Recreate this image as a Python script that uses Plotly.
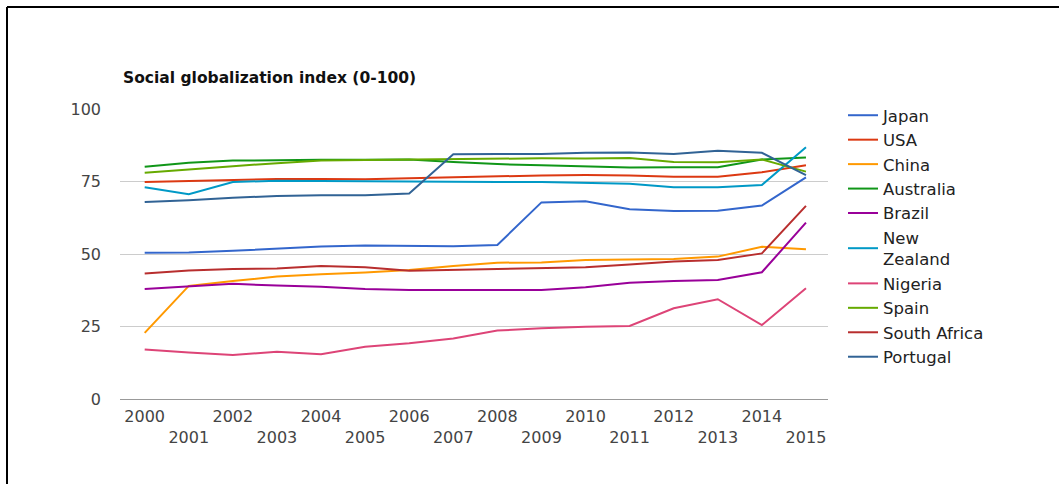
import plotly.graph_objects as go

years = list(range(2000, 2016))
tick_labels = [str(y) if y % 2 == 0 else "<br>" + str(y) for y in years]

countries = ["Japan", "USA", "China", "Australia", "Brazil", "New<br>Zealand",
             "Nigeria", "Spain", "South Africa", "Portugal"]
colors = ["#3366cc", "#dc3912", "#ff9900", "#109618", "#990099", "#0099c6",
          "#dd4477", "#66aa00", "#b82e2e", "#316395"]

japan = [50.4, 50.5, 51.1, 51.9, 52.6, 52.9, 52.7, 52.7, 53.1, 67.8, 68.2, 65.4, 64.8, 64.9, 66.7, 76.4]
usa = [74.8, 75.1, 75.5, 75.9, 75.9, 75.8, 76.1, 76.5, 76.9, 77.1, 77.2, 77.1, 76.6, 76.6, 78.2, 80.6]
china = [22.8, 39.0, 40.7, 42.2, 43.0, 43.6, 44.5, 45.9, 47.0, 47.1, 47.9, 48.2, 48.3, 49.1, 52.5, 51.6]
australia = [80.1, 81.5, 82.2, 82.4, 82.5, 82.5, 82.6, 81.7, 81.0, 80.6, 80.1, 79.8, 79.9, 79.9, 82.6, 83.3]
brazil = [37.9, 38.7, 39.7, 39.1, 38.7, 37.9, 37.6, 37.6, 37.6, 37.6, 38.5, 40.1, 40.7, 41.0, 43.7, 60.8]
new_zealand = [73.0, 70.6, 74.8, 75.3, 75.2, 75.1, 74.8, 74.7, 74.8, 74.8, 74.4, 74.2, 73.0, 73.0, 73.8, 86.8]
nigeria = [17.1, 16.0, 15.2, 16.3, 15.4, 18.0, 19.2, 20.9, 23.6, 24.4, 24.9, 25.2, 31.3, 34.4, 25.5, 38.2]
spain = [78.0, 79.2, 80.3, 81.3, 82.2, 82.4, 82.6, 82.8, 83.0, 83.0, 82.9, 83.1, 81.7, 81.6, 82.6, 78.4]
south_africa = [43.3, 44.3, 44.8, 45.0, 45.9, 45.4, 44.2, 44.5, 44.7, 45.1, 45.4, 46.4, 47.4, 47.9, 50.2, 66.6]
portugal = [67.9, 68.5, 69.4, 70.0, 70.3, 70.3, 70.9, 84.4, 84.5, 84.5, 84.9, 85.0, 84.5, 85.6, 84.9, 77.2]

series = [japan, usa, china, australia, brazil, new_zealand, nigeria, spain, south_africa, portugal]

FONT = "DejaVu Sans, Verdana, sans-serif"

fig = go.Figure()
for name, vals, col in zip(countries, series, colors):
    fig.add_trace(go.Scatter(x=years, y=vals, name=name, mode="lines",
                             line=dict(color=col, width=2)))

# plot area geometry (pixels)
L, R, T, B = 120, 231, 109, 85
W, H = 1059, 484
pw, ph = W - L - R, H - T - B

def px_x(p):
    return (p - L) / pw

def px_y(p):
    return (H - B - p) / ph

fig.update_layout(
    width=W, height=H,
    margin=dict(l=L, r=R, t=T, b=B),
    paper_bgcolor="white", plot_bgcolor="white",
    font=dict(family=FONT, size=16, color="#444"),
    title=dict(text="<b>Social globalization index (0-100)</b>",
               x=123 / W, xanchor="left", y=1 - 78 / H, yanchor="middle",
               font=dict(family=FONT, size=15.5, color="#111")),
    xaxis=dict(range=[1999.44, 2015.5], tickvals=years, ticktext=tick_labels,
               showgrid=False, zeroline=False, showline=False, ticks="",
               ticklabelstandoff=6,
               tickfont=dict(size=16, color="#444")),
    yaxis=dict(range=[0, 100], tickvals=[0, 25, 50, 75, 100],
               showgrid=True, gridcolor="#cccccc", gridwidth=1,
               zeroline=True, zerolinecolor="#999999", zerolinewidth=1,
               ticks="", ticklabelstandoff=18,
               tickfont=dict(size=16, color="#444")),
    legend=dict(x=px_x(843), xanchor="left", y=px_y(98), yanchor="top",
                font=dict(family=FONT, size=16.5, color="#222"),
                bgcolor="rgba(0,0,0,0)", tracegroupgap=0, maxheight=420),
    showlegend=True,
    shapes=[
        dict(type="line", xref="paper", yref="paper",
             x0=px_x(7), x1=px_x(1070), y0=px_y(7), y1=px_y(7),
             line=dict(color="black", width=2)),
        dict(type="line", xref="paper", yref="paper",
             x0=px_x(7), x1=px_x(7), y0=px_y(7), y1=px_y(495),
             line=dict(color="black", width=2)),
    ],
)

fig.write_html("out.html", config={"displayModeBar": False},
               post_script="document.body.style.margin='0';")
